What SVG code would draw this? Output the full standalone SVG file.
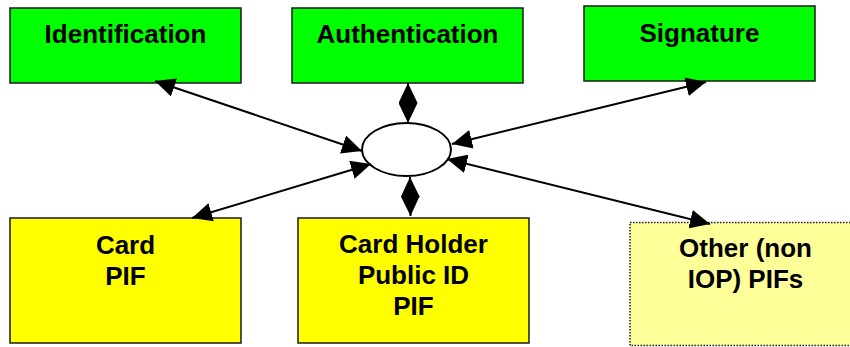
<svg xmlns="http://www.w3.org/2000/svg" width="850" height="347" viewBox="0 0 850 347">
  <defs>
    <marker id="arrow" viewBox="0 0 20 19" refX="20" refY="9.5" markerWidth="20" markerHeight="19" markerUnits="userSpaceOnUse" orient="auto-start-reverse">
      <path d="M0,0 L20,9.5 L0,19 z" fill="#000"/>
    </marker>
    <style>
      .box { stroke: #1a1a1a; stroke-width: 1.5; }
      .green { fill: #00ff00; }
      .yellow { fill: #ffff00; }
      .pale { fill: #ffff99; stroke-dasharray: 1.5 1.5; }
      .label { font-family: "Liberation Sans", Arial, sans-serif; font-weight: bold; font-size: 26px; fill: #000; text-anchor: middle; }
      .link { stroke: #000; stroke-width: 2; fill: none; marker-start: url(#arrow); marker-end: url(#arrow); }
    </style>
  </defs>

  <g id="identification">
    <rect class="box green" x="10" y="8" width="231" height="75"/>
    <text class="label" x="125.5" y="43">Identification</text>
  </g>
  <g id="authentication">
    <rect class="box green" x="292" y="8" width="231" height="75"/>
    <text class="label" x="407.5" y="43">Authentication</text>
  </g>
  <g id="signature">
    <rect class="box green" x="584" y="6" width="231" height="75"/>
    <text class="label" x="699.5" y="42">Signature</text>
  </g>

  <g id="hub">
    <ellipse cx="406.5" cy="149.5" rx="44.5" ry="26.5" fill="#fff" stroke="#000" stroke-width="2"/>
  </g>

  <g id="card-pif">
    <rect class="box yellow" x="10" y="218" width="231" height="125"/>
    <text class="label" x="125.5" y="254">Card</text>
    <text class="label" x="125.5" y="285">PIF</text>
  </g>
  <g id="card-holder-pif">
    <rect class="box yellow" x="298" y="218" width="231" height="125"/>
    <text class="label" x="413.5" y="253">Card Holder</text>
    <text class="label" x="413.5" y="284">Public ID</text>
    <text class="label" x="413.5" y="315">PIF</text>
  </g>
  <g id="other-pifs">
    <rect class="box pale" x="630" y="222.5" width="231" height="123"/>
    <text class="label" x="745.5" y="257">Other (non</text>
    <text class="label" x="745.5" y="288">IOP) PIFs</text>
  </g>

  <g id="connectors">
    <line class="link" x1="155" y1="81" x2="362" y2="151"/>
    <line class="link" x1="706" y1="82" x2="452" y2="144"/>
    <line class="link" x1="192" y1="218" x2="371" y2="164"/>
    <line class="link" x1="710" y1="224" x2="447" y2="159"/>
    <!-- short links: the two heads meet and read as one diamond -->
    <line class="link" x1="408" y1="83" x2="408" y2="123"/>
    <line class="link" x1="410" y1="177" x2="410.5" y2="216"/>
  </g>
</svg>
